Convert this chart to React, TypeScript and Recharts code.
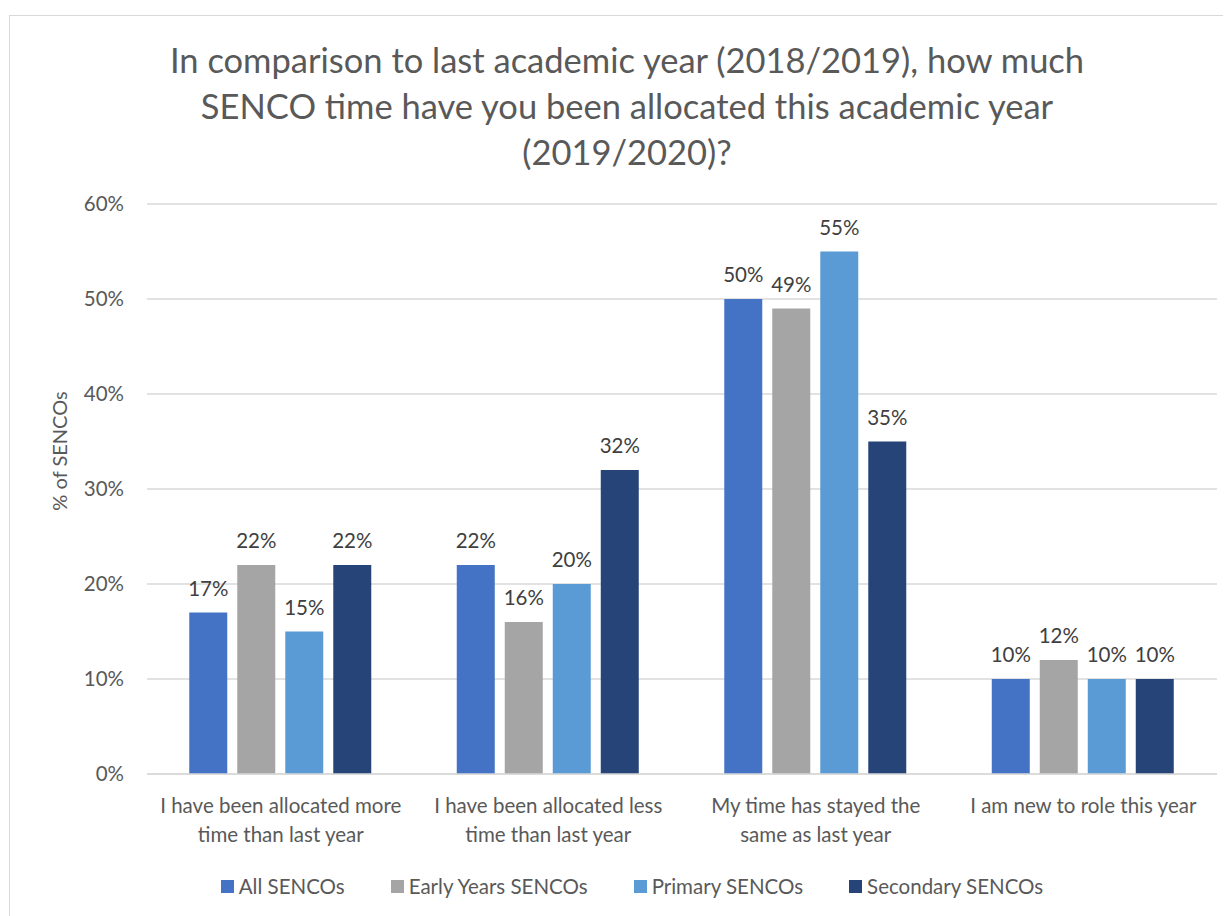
import React from 'react';
import { BarChart, Bar, XAxis, YAxis, CartesianGrid, Legend, LabelList } from 'recharts';

const categoryLines: string[][] = [
  ['I have been allocated more', 'time than last year'],
  ['I have been allocated less', 'time than last year'],
  ['My time has stayed the', 'same as last year'],
  ['I am new to role this year'],
];
const categories = categoryLines.map((l) => l.join(' '));

const allSencos = [17, 22, 50, 10];
const earlyYears = [22, 16, 49, 12];
const primary = [15, 20, 55, 10];
const secondary = [22, 32, 35, 10];

const yTicks = [0, 10, 20, 30, 40, 50, 60];

const seriesDefs = [
  { key: 'all', name: 'All SENCOs', color: '#4472C4', values: allSencos },
  { key: 'early', name: 'Early Years SENCOs', color: '#A5A5A5', values: earlyYears },
  { key: 'primary', name: 'Primary SENCOs', color: '#5B9BD5', values: primary },
  { key: 'secondary', name: 'Secondary SENCOs', color: '#264478', values: secondary },
];

const data = categories.map((c, i) => {
  const row: Record<string, string | number> = { category: c };
  seriesDefs.forEach((s) => {
    row[s.key] = s.values[i];
  });
  return row;
});

const FONT = 'Lato, "Noto Sans", sans-serif';
const TXT = 20.5;

const CategoryTick = (props: any) => {
  const { x, y, payload } = props;
  const idx = categories.indexOf(payload.value);
  const lines = idx >= 0 ? categoryLines[idx] : [payload.value];
  return (
    <g transform={`translate(${x},${y})`}>
      <text textAnchor="middle" fill="#595959" fontSize={TXT} fontFamily={FONT}>
        {lines.map((ln, i) => (
          <tspan key={i} x={0} dy={i === 0 ? 31 : 29}>
            {ln}
          </tspan>
        ))}
      </text>
    </g>
  );
};

const LegendContent = () => (
  <div
    style={{
      display: 'flex',
      justifyContent: 'center',
      gap: 46,
      fontFamily: FONT,
      fontSize: TXT,
      lineHeight: '26px',
      color: '#595959',
      paddingLeft: 0,
    }}
  >
    {seriesDefs.map((s) => (
      <div key={s.key} style={{ display: 'flex', alignItems: 'center' }}>
        <span style={{ width: 13, height: 13, background: s.color, display: 'inline-block', marginRight: 5 }} />
        <span>{s.name}</span>
      </div>
    ))}
  </div>
);

export default function App() {
  return (
    <div style={{ position: 'relative', width: 1223, height: 908, background: '#fff', overflow: 'hidden' }}>
      <div
        style={{
          position: 'absolute',
          left: 1,
          top: 7,
          width: 1300,
          height: 1000,
          border: '1.5px solid #d9d9d9',
        }}
      />
      <div
        style={{
          position: 'absolute',
          left: 0,
          top: 29,
          width: 1238,
          textAlign: 'center',
          fontFamily: FONT,
          fontSize: 34.5,
          lineHeight: '46px',
          color: '#595959',
        }}
      >
        In comparison to last academic year (2018/2019), how much
        <br />
        SENCO time have you been allocated this academic year
        <br />
        (2019/2020)?
      </div>
      <div style={{ position: 'absolute', left: 0, top: 0 }}>
        <BarChart
          width={1223}
          height={908}
          data={data}
          margin={{ top: 196, right: 14, left: 39, bottom: 26 }}
          barCategoryGap="15.8%"
          barGap={10}
        >
          <CartesianGrid vertical={false} stroke="#d9d9d9" strokeWidth={1.3} />
          <XAxis
            dataKey="category"
            tick={<CategoryTick />}
            tickLine={false}
            axisLine={{ stroke: '#d9d9d9', strokeWidth: 1.3 }}
            height={90}
            interval={0}
          />
          <YAxis
            domain={[0, 60]}
            ticks={yTicks}
            tickFormatter={(v: number) => `${v}%`}
            axisLine={false}
            tickLine={false}
            tickSize={0}
            tickMargin={23}
            width={100}
            tick={{ fill: '#595959', fontSize: TXT, fontFamily: FONT }}
            label={{
              content: (p: any) => {
                const vb = p.viewBox || {};
                const cx = 51;
                const cy = (vb.y ?? 196) + (vb.height ?? 569) / 2 - 38;
                return (
                  <text
                    x={cx}
                    y={cy}
                    transform={`rotate(-90 ${cx} ${cy})`}
                    textAnchor="middle"
                    dominantBaseline="central"
                    fill="#595959"
                    fontSize={20}
                    fontFamily={FONT}
                  >
                    % of SENCOs
                  </text>
                );
              },
            }}
          />
          <Legend verticalAlign="bottom" content={<LegendContent />} wrapperStyle={{ bottom: 17 }} />
          {seriesDefs.map((s) => (
            <Bar key={s.key} dataKey={s.key} name={s.name} fill={s.color} isAnimationActive={false}>
              <LabelList
                dataKey={s.key}
                position="top"
                offset={17}
                formatter={(v: any) => `${v}%`}
                fill="#404040"
                fontSize={TXT}
                fontFamily={FONT}
              />
            </Bar>
          ))}
        </BarChart>
      </div>
    </div>
  );
}
